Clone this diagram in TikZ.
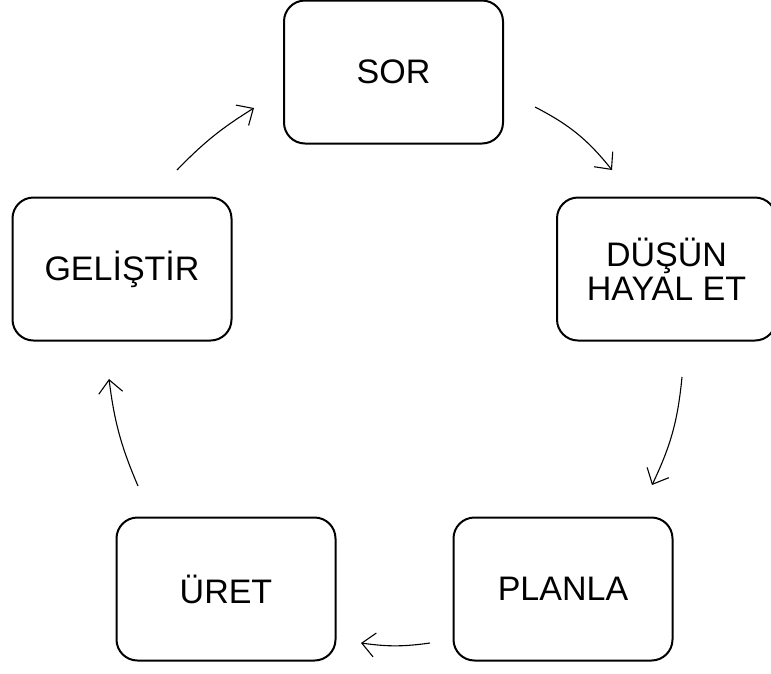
\documentclass[tikz,border=0pt]{standalone}
\usepackage{fontspec}
\setmainfont{Liberation Sans}
\usetikzlibrary{positioning,arrows.meta}

\begin{document}
\begin{tikzpicture}[x=1pt,y=-1pt,
	kutu/.style={draw,line width=2pt,rounded corners=21pt,minimum width=219pt,minimum height=143pt,align=center,font=\fontsize{34}{34}\selectfont},
	ok/.style={-{Straight Barb[length=13pt,width=24pt]},line width=1.1pt}]
	\useasboundingbox (0,0) rectangle (771,673);
	
	% kutular
	\node[kutu] (sor) at (393.5,72) {SOR};
	\node[kutu] (dusun) at (666.5,269) {DÜŞÜN\\HAYAL ET};
	\node[kutu] (planla) at (563,589) {PLANLA};
	\node[kutu] (uret) at (226,589) {ÜRET};
	\node[kutu] (gelistir) at (122,269) {GELİŞTİR};
	
	% okların uçları
	\coordinate (o1a) at (535,107); \coordinate (o1b) at (612,170);
	\coordinate (o2a) at (682,377); \coordinate (o2b) at (652,485);
	\coordinate (o3a) at (430,643); \coordinate (o3b) at (361,643);
	\coordinate (o4a) at (138,486); \coordinate (o4b) at (109,379);
	\coordinate (o5a) at (177,170); \coordinate (o5b) at (254,108);
	
	% oklar
	\draw[ok] (o1a) to[bend left=12] (o1b);
	\draw[ok] (o2a) to[bend left=10] (o2b);
	\draw[ok] (o3a) to[bend left=8] (o3b);
	\draw[ok] (o4a) to[bend left=8] (o4b);
	\draw[ok] (o5a) to[bend left=7] (o5b);
\end{tikzpicture}
\end{document}
